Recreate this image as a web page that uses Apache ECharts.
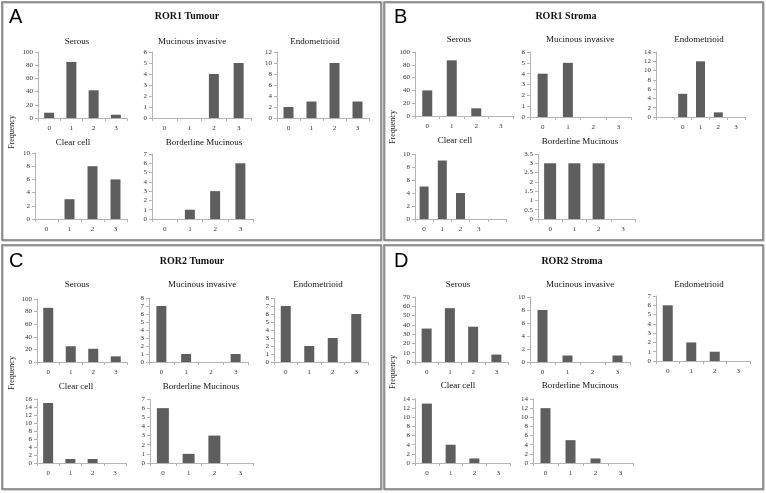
<!DOCTYPE html>
<html>
<head>
<meta charset="utf-8">
<script src="https://cdn.jsdelivr.net/npm/echarts@6/dist/echarts.min.js"></script>
<style>
html,body{margin:0;padding:0;background:#fff;}
#chart{width:766px;height:493px;}
</style>
</head>
<body>
<div id="chart"></div>
<script>
// ---------- DATA ----------
const categories = ['0', '1', '2', '3'];
const subtypeNames = ['Serous', 'Mucinous invasive', 'Endometrioid', 'Clear cell', 'Borderline Mucinous'];
const panelLetters = ['A', 'B', 'C', 'D'];
const panelTitles = ['ROR1 Tumour', 'ROR1 Stroma', 'ROR2 Tumour', 'ROR2 Stroma'];
const yAxisName = 'Frequency';

// A: ROR1 Tumour
const ror1TumourSerous = [8, 85, 42, 5];
const ror1TumourMucinous = [0, 0, 4, 5];
const ror1TumourEndometrioid = [2, 3, 10, 3];
const ror1TumourClearCell = [0, 3, 8, 6];
const ror1TumourBorderline = [0, 1, 3, 6];
const ror1TumourYMax = [100, 6, 12, 10, 7];
const ror1TumourYStep = [20, 1, 2, 2, 1];

// B: ROR1 Stroma
const ror1StromaSerous = [40, 87, 12, 0];
const ror1StromaMucinous = [4, 5, 0, 0];
const ror1StromaEndoCategories = ['', '0', '1', '2', '3'];
const ror1StromaEndometrioid = ['-', 5, 12, 1, 0];
const ror1StromaClearCategories = ['0', '1', '2', '3', ''];
const ror1StromaClearCell = [5, 9, 4, 0, '-'];
const ror1StromaBorderline = [3, 3, 3, 0];
const ror1StromaYMax = [100, 6, 14, 10, 3.5];
const ror1StromaYStep = [20, 1, 2, 2, 0.5];

// C: ROR2 Tumour
const ror2TumourSerous = [86, 25, 21, 9];
const ror2TumourMucinous = [7, 1, 0, 1];
const ror2TumourEndometrioid = [7, 2, 3, 6];
const ror2TumourClearCell = [15, 1, 1, 0];
const ror2TumourBorderline = [6, 1, 3, 0];
const ror2TumourYMax = [100, 8, 8, 16, 7];
const ror2TumourYStep = [20, 1, 1, 2, 1];

// D: ROR2 Stroma
const ror2StromaSerous = [36, 58, 38, 8];
const ror2StromaMucinous = [8, 1, 0, 1];
const ror2StromaEndometrioid = [6, 2, 1, 0];
const ror2StromaClearCell = [13, 4, 1, 0];
const ror2StromaBorderline = [12, 5, 1, 0];
const ror2StromaYMax = [70, 10, 7, 14, 14];
const ror2StromaYStep = [10, 2, 1, 2, 2];

// ---------- LAYOUT (pixels) ----------
const panelData = [
  { series: [ror1TumourSerous, ror1TumourMucinous, ror1TumourEndometrioid, ror1TumourClearCell, ror1TumourBorderline],
    cats: [categories, categories, categories, categories, categories], ymax: ror1TumourYMax, ystep: ror1TumourYStep },
  { series: [ror1StromaSerous, ror1StromaMucinous, ror1StromaEndometrioid, ror1StromaClearCell, ror1StromaBorderline],
    cats: [categories, categories, ror1StromaEndoCategories, ror1StromaClearCategories, categories], ymax: ror1StromaYMax, ystep: ror1StromaYStep },
  { series: [ror2TumourSerous, ror2TumourMucinous, ror2TumourEndometrioid, ror2TumourClearCell, ror2TumourBorderline],
    cats: [categories, categories, categories, categories, categories], ymax: ror2TumourYMax, ystep: ror2TumourYStep },
  { series: [ror2StromaSerous, ror2StromaMucinous, ror2StromaEndometrioid, ror2StromaClearCell, ror2StromaBorderline],
    cats: [categories, categories, categories, categories, categories], ymax: ror2StromaYMax, ystep: ror2StromaYStep }
];

// grid rects [left, top, width, height]
const gridRects = [
  [[38,52,89,66],[152,52,99,66],[277,52,92,66],[35,153,92,66],[152,154,101,65]],
  [[415,52,98,64],[530,52,101,65],[656,52,89,65],[415,154,91,65],[538,154,97,65]],
  [[37,299,90,63],[149,298,99,64],[274,298,94,64],[37,399,89,64],[150,399,103,64]],
  [[415,297,93,65],[530,297,100,65],[656,296,94,65],[415,399,95,64],[533,399,100,64]]
];
const subTitlePos = [
  [[77,42],[192,42],[315,42],[73,143],[204,143]],
  [[459,40],[580,40],[699,40],[455,141],[580,142]],
  [[77,285],[202,285],[318,285],[76,387],[201,387]],
  [[458,285],[580,285],[699,285],[458,386],[580,386]]
];
const barWidths = [
  [10,10,10,10,10],
  [10,10,9,9,12],
  [10,10,10,10,12],
  [10,10,10,10,10]
];
const panelTitlePos = [[187,16],[566,16],[192,261],[572,261]];
const letterPos = [[9,17],[394,17],[9,261],[394,261]];
const freqPos = [[12,132],[393,127],[12,373],[393,372]];
const panelRects = [[2,2,379,238],[384,2,379,238],[2,245,379,244],[384,245,379,244]];

const SERIF = '"Liberation Serif","Times New Roman",serif';
const grids = [], xAxes = [], yAxes = [], series = [], graphics = [];

panelData.forEach((p, pi) => {
  const r = panelRects[pi];
  graphics.push({ type: 'rect', shape: { x: r[0]+1, y: r[1]+1, width: r[2], height: r[3] },
    style: { fill: 'none', stroke: '#c8c8c8', lineWidth: 1.5 }, silent: true });
  graphics.push({ type: 'rect', shape: { x: r[0], y: r[1], width: r[2], height: r[3] },
    style: { fill: 'none', stroke: '#7a7a7a', lineWidth: 1.5 }, silent: true });
  graphics.push({ type: 'text', x: letterPos[pi][0], y: letterPos[pi][1],
    style: { text: panelLetters[pi], font: '20px "Liberation Sans", Arial, sans-serif', fill: '#000', textVerticalAlign: 'middle' } });
  graphics.push({ type: 'text', x: panelTitlePos[pi][0], y: panelTitlePos[pi][1],
    style: { text: panelTitles[pi], font: 'bold 10px ' + SERIF, fill: '#111', textAlign: 'center', textVerticalAlign: 'middle' } });
  graphics.push({ type: 'text', x: freqPos[pi][0], y: freqPos[pi][1], rotation: Math.PI / 2,
    style: { text: yAxisName, font: '8px ' + SERIF, fill: '#222', textAlign: 'center', textVerticalAlign: 'middle' } });

  p.series.forEach((vals, si) => {
    const idx = grids.length;
    const g = gridRects[pi][si];
    grids.push({ left: g[0], top: g[1], width: g[2], height: g[3], containLabel: false });
    graphics.push({ type: 'text', x: subTitlePos[pi][si][0], y: subTitlePos[pi][si][1],
      style: { text: subtypeNames[si], font: '9px ' + SERIF, fill: '#111', textAlign: 'center', textVerticalAlign: 'middle' } });
    xAxes.push({
      type: 'category', gridIndex: idx, data: p.cats[si], boundaryGap: true,
      axisLine: { lineStyle: { color: '#b4b4b4', width: 1 } },
      axisTick: { show: true, length: 3, alignWithLabel: false, interval: 0, lineStyle: { color: '#b4b4b4' } },
      axisLabel: { fontFamily: SERIF, fontSize: 7, color: '#333', margin: 7, interval: 0 },
      splitLine: { show: false }
    });
    yAxes.push({
      type: 'value', gridIndex: idx, min: 0, max: p.ymax[si], interval: p.ystep[si],
      axisLine: { show: true, lineStyle: { color: '#b4b4b4', width: 1 } },
      axisTick: { show: true, length: 3, lineStyle: { color: '#b4b4b4' } },
      axisLabel: { fontFamily: SERIF, fontSize: 7, color: '#333', margin: 5 },
      splitLine: { show: false }
    });
    series.push({
      type: 'bar', xAxisIndex: idx, yAxisIndex: idx, data: vals,
      barWidth: barWidths[pi][si],
      itemStyle: { color: '#5e5e5e', borderWidth: 0 },
      silent: true, animation: false
    });
  });
});

const chart = echarts.init(document.getElementById('chart'));
chart.setOption({
  backgroundColor: '#ffffff',
  animation: false,
  grid: grids,
  xAxis: xAxes,
  yAxis: yAxes,
  series: series,
  graphic: graphics
});
</script>
</body>
</html>
